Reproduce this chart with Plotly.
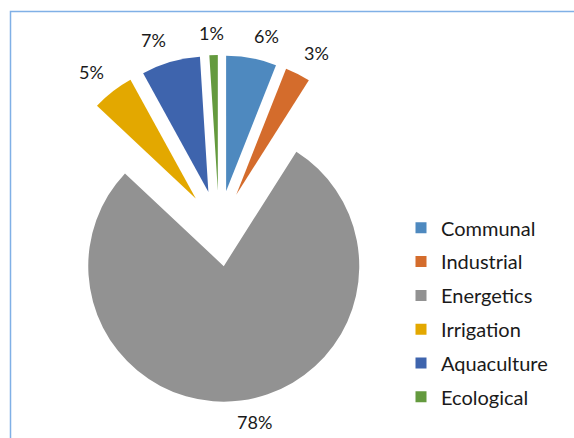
import math
import plotly.graph_objects as go

# Water use shares by sector (%)
sectors = ["Communal", "Industrial", "Energetics", "Irrigation", "Aquaculture", "Ecological"]
shares = [6, 3, 78, 5, 7, 1]
colors = ["#4E89BF", "#D46C2C", "#929292", "#E3A800", "#3E64AD", "#649A3E"]

W, H = 574, 438

# pie placement (pixels): centre, slice radius and explode fraction
cx, cy, radius, pull = 219, 228.5, 135.5, 0.28
half = radius * (1 + pull)

fig = go.Figure()
fig.add_trace(go.Pie(
    labels=sectors,
    values=shares,
    sort=False,
    direction="clockwise",
    rotation=0,
    pull=[pull] * len(shares),
    marker=dict(colors=colors, line=dict(width=0)),
    textinfo="none",
    showlegend=False,
    hoverinfo="label+percent",
    domain=dict(x=[(cx - half) / W, (cx + half) / W],
                y=[1 - (cy + half) / H, 1 - (cy - half) / H]),
))

# percentage labels just outside the outer end of each exploded slice
total = sum(shares)
start = 0.0
gap = 12
for v in shares:
    mid = math.radians((start + v / 2) / total * 360)
    start += v
    ux, uy = math.sin(mid), -math.cos(mid)
    text = f"{v}%"
    hw, hh = 6.2 * len(text) + 1, 10
    ex, ey = cx + half * ux, cy + half * uy
    px = ex + gap * ux + hw * max(-1.0, min(1.0, ux / 0.2))
    py = ey + gap * uy + hh * (1 if uy > 0 else -1)
    fig.add_annotation(
        x=px / W, y=1 - py / H, xref="paper", yref="paper",
        text=text, showarrow=False, xanchor="center", yanchor="middle",
        font=dict(family="Lato", size=18, color="#1a1a1a"),
    )

# legend entries with square swatches
for name, col in zip(sectors, colors):
    fig.add_trace(go.Scatter(
        x=[None], y=[None], mode="markers", name=name,
        legendgroup=name,
        marker=dict(symbol="square", size=11, color=col),
    ))

fig.update_layout(
    width=W, height=H,
    margin=dict(l=0, r=0, t=0, b=0, autoexpand=False),
    paper_bgcolor="white",
    plot_bgcolor="white",
    xaxis=dict(visible=False),
    yaxis=dict(visible=False),
    legend=dict(
        x=401 / W, y=1 - 208.3 / H, xanchor="left", yanchor="top",
        font=dict(family="Lato", size=20, color="#1a1a1a"),
        tracegroupgap=4.8,
        bgcolor="rgba(0,0,0,0)",
    ),
    shapes=[dict(type="rect", xref="paper", yref="paper",
                 x0=10.5 / W, x1=1.2, y0=-0.2, y1=1 - 11.5 / H,
                 line=dict(color="#80B0E6", width=1.5), fillcolor="rgba(0,0,0,0)")],
)

fig.write_html("out.html")
